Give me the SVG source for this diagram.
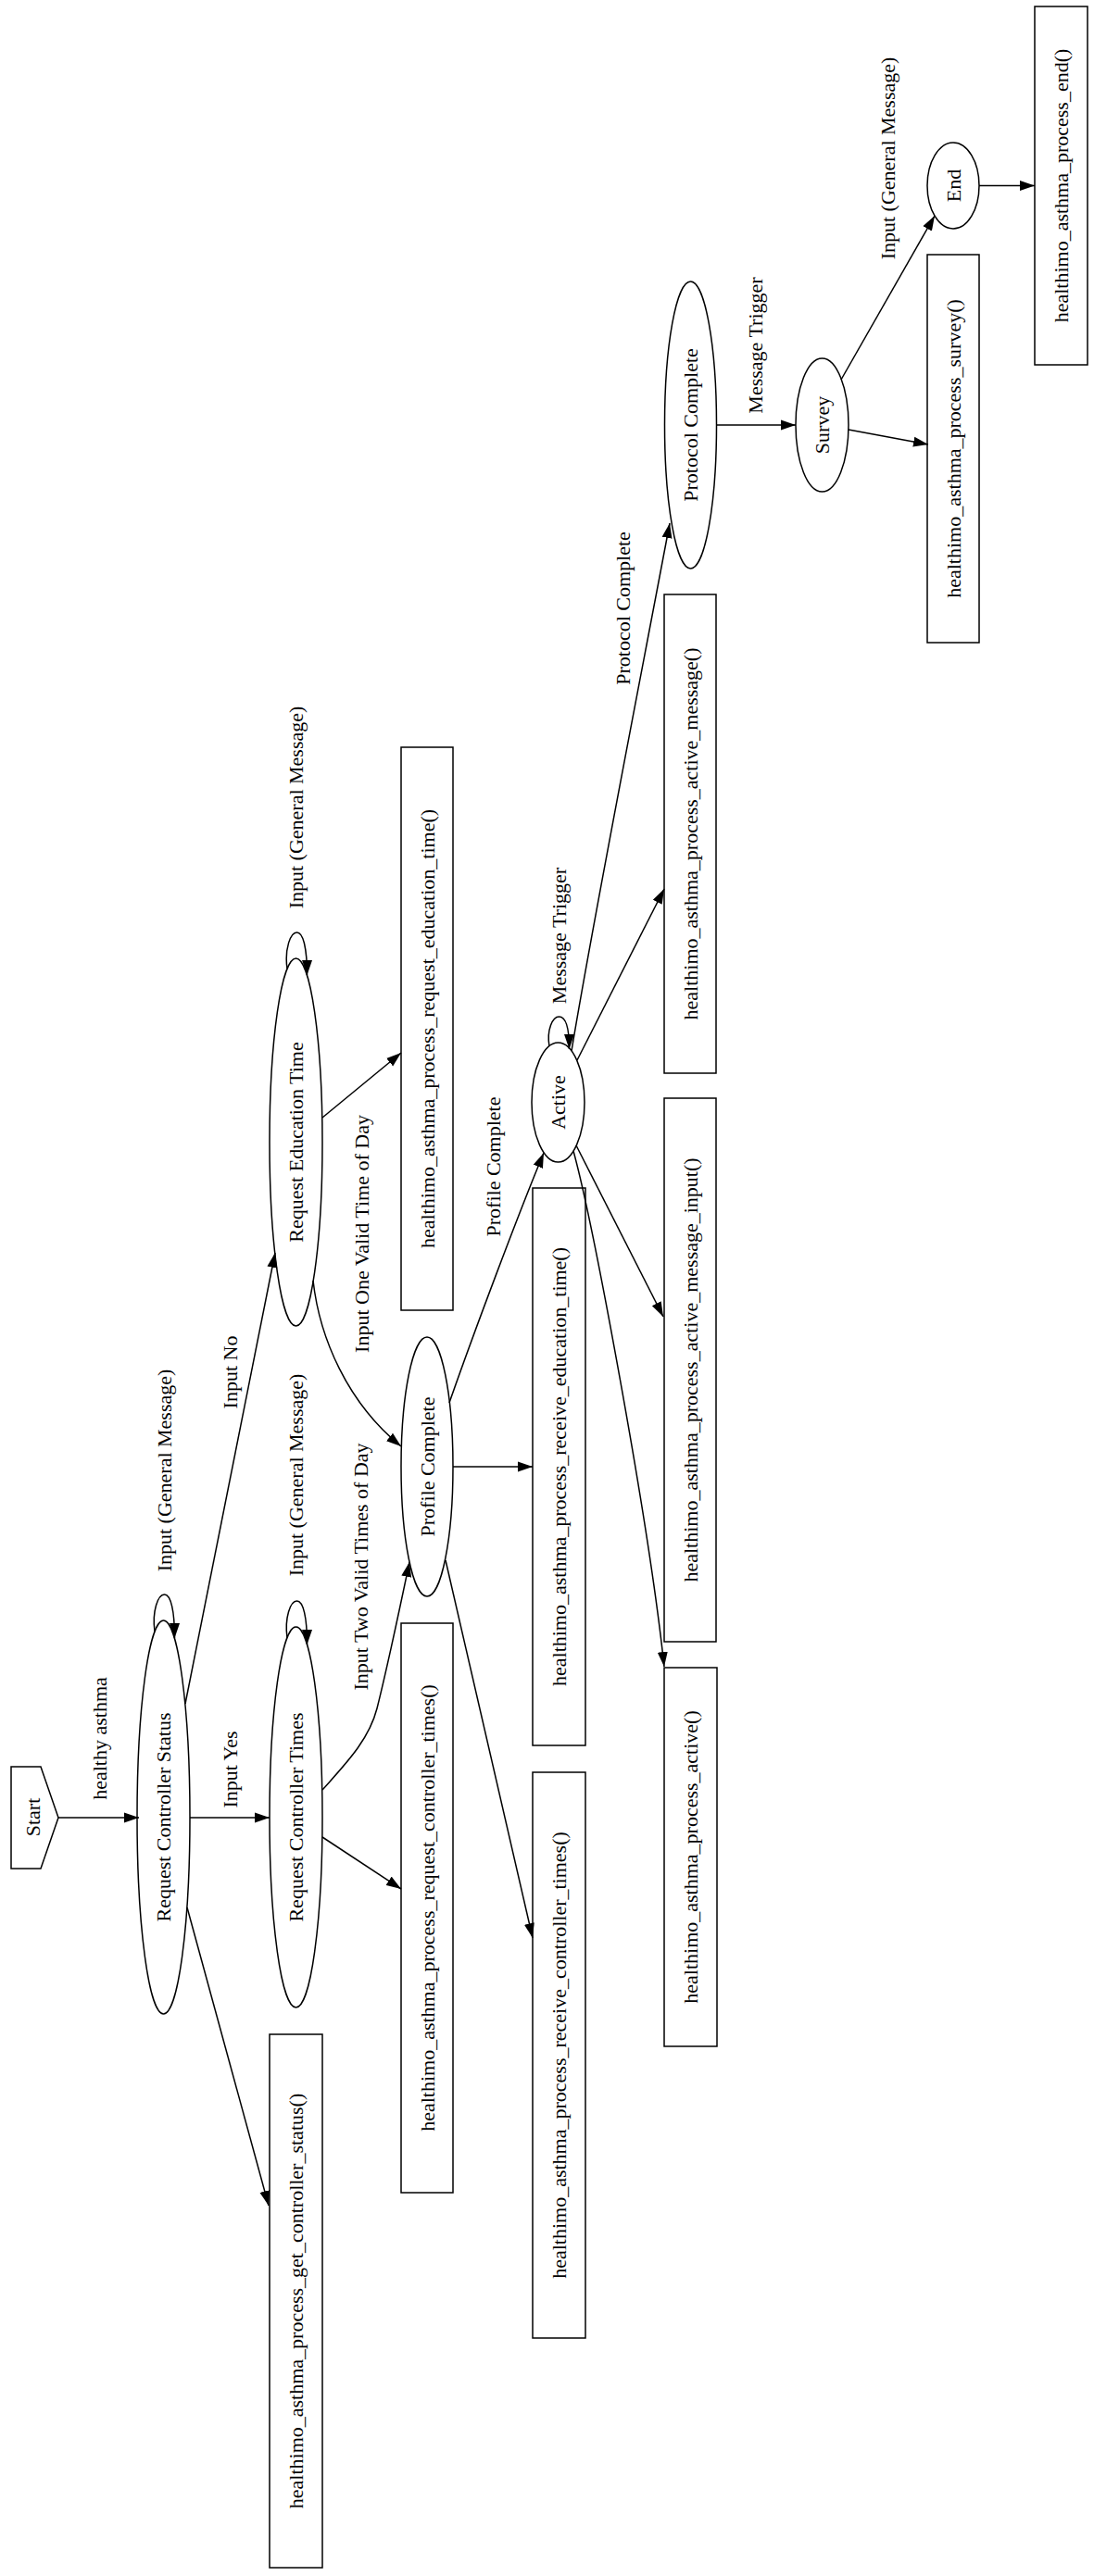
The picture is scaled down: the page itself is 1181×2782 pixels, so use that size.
<svg xmlns="http://www.w3.org/2000/svg" width="1181" height="2782" viewBox="0 0 1181 2782">
<defs>
<style>
.n{fill:none;stroke:#000;stroke-width:1.5}
.t{font-family:"Liberation Serif","Times New Roman",serif;font-size:22px;fill:#000;text-anchor:middle}
.e{fill:none;stroke:#000;stroke-width:1.5;marker-end:url(#ah)}
</style>
<marker id="ah" viewBox="0 0 17 12" refX="16" refY="6" markerWidth="17" markerHeight="12" markerUnits="userSpaceOnUse" orient="auto">
<path d="M0,0.5 L16,6 L0,11.5 z" fill="#000"/>
</marker>
</defs>
<rect width="1181" height="2782" fill="#fff"/>

<g id="edges">
<path class="e" d="M63,1963 L150,1963"/>
<text class="t" transform="translate(114.5,1877.5) rotate(-90)">healthy asthma</text>

<path class="e" d="M167,1762 C164,1740 170.5,1722 177.5,1722 C184.5,1722 188.5,1740 188.5,1769"/>
<text class="t" transform="translate(184.5,1588) rotate(-90)">Input (General Message)</text>

<path class="e" d="M205,1963 L291,1963"/>
<text class="t" transform="translate(255.5,1911) rotate(-90)">Input Yes</text>

<path class="e" d="M200,1840 L297,1353"/>
<text class="t" transform="translate(255.5,1482) rotate(-90)">Input No</text>

<path class="e" d="M202,2060 L290,2382"/>

<path class="e" d="M310,1769 C307,1747 313.5,1729 320.5,1729 C327.5,1729 331.5,1747 331.5,1776"/>
<text class="t" transform="translate(326.5,1593) rotate(-90)">Input (General Message)</text>

<path class="e" d="M348,1984 L433,2040"/>

<path class="e" d="M348,1933 C372,1906 398,1880 407,1845 C417,1805 432,1735 442,1687"/>
<text class="t" transform="translate(397,1692) rotate(-90)">Input Two Valid Times of Day</text>

<path class="e" d="M310,1046 C307,1025 313.5,1007 320.5,1007 C327.5,1007 331.5,1025 331.5,1053"/>
<text class="t" transform="translate(326.5,872) rotate(-90)">Input (General Message)</text>

<path class="e" d="M348,1207 L433,1137"/>

<path class="e" d="M338,1383 C345,1445 375,1515 433,1562"/>
<text class="t" transform="translate(397.5,1332.5) rotate(-90)">Input One Valid Time of Day</text>

<path class="e" d="M489,1584 L575,1584"/>

<path class="e" d="M485,1515 C513,1435 560,1310 587,1245"/>
<text class="t" transform="translate(539.5,1260) rotate(-90)">Profile Complete</text>

<path class="e" d="M481,1685 L575,2093"/>

<path class="e" d="M593,1130 C590,1112 596.5,1098 603.5,1098 C610.5,1098 614.5,1110 614.5,1133"/>
<text class="t" transform="translate(610.5,1010.5) rotate(-90)">Message Trigger</text>

<path class="e" d="M617,1135 C640,995 690,740 723,565"/>
<text class="t" transform="translate(679.5,657) rotate(-90)">Protocol Complete</text>

<path class="e" d="M623,1145 L717,960"/>

<path class="e" d="M622,1237 L716,1422"/>

<path class="e" d="M619,1243 C640,1320 700,1640 717,1800"/>

<path class="e" d="M773,459 L859,459"/>
<text class="t" transform="translate(822.5,373) rotate(-90)">Message Trigger</text>

<path class="e" d="M916,464 L1002,480"/>

<path class="e" d="M908,410 L1009,233"/>
<text class="t" transform="translate(966,171) rotate(-90)">Input (General Message)</text>

<path class="e" d="M1057,200.5 L1117,200.5"/>
</g>

<g id="start">
<polygon class="n" points="12,1908 44,1908 63,1963 44,2018 12,2018"/>
<text class="t" transform="translate(43,1962.5) rotate(-90)">Start</text>
</g>

<g id="request_controller_status">
<ellipse class="n" cx="176.5" cy="1962.5" rx="28.5" ry="212.5"/>
<text class="t" transform="translate(184,1962.5) rotate(-90)">Request Controller Status</text>
</g>

<g id="request_controller_times">
<ellipse class="n" cx="319.5" cy="1962.5" rx="28.5" ry="205.5"/>
<text class="t" transform="translate(327,1962.5) rotate(-90)">Request Controller Times</text>
</g>

<g id="request_education_time">
<ellipse class="n" cx="319.5" cy="1233.5" rx="28.5" ry="198.5"/>
<text class="t" transform="translate(327,1233.5) rotate(-90)">Request Education Time</text>
</g>

<g id="profile_complete">
<ellipse class="n" cx="461" cy="1584" rx="28" ry="140"/>
<text class="t" transform="translate(468.5,1584) rotate(-90)">Profile Complete</text>
</g>

<g id="active">
<ellipse class="n" cx="602.5" cy="1190.5" rx="28.5" ry="64.5"/>
<text class="t" transform="translate(610,1190.5) rotate(-90)">Active</text>
</g>

<g id="protocol_complete">
<ellipse class="n" cx="745.5" cy="459" rx="28" ry="155"/>
<text class="t" transform="translate(753,459) rotate(-90)">Protocol Complete</text>
</g>

<g id="survey">
<ellipse class="n" cx="887.5" cy="459" rx="28.5" ry="72"/>
<text class="t" transform="translate(895,459) rotate(-90)">Survey</text>
</g>

<g id="end">
<ellipse class="n" cx="1029" cy="200.5" rx="28" ry="46.5"/>
<text class="t" transform="translate(1036.5,200.5) rotate(-90)">End</text>
</g>

<g id="fn_get_controller_status">
<rect class="n" x="291" y="2197" width="57" height="576"/>
<text class="t" transform="translate(327,2485) rotate(-90)">healthimo_asthma_process_get_controller_status()</text>
</g>

<g id="fn_request_controller_times">
<rect class="n" x="433" y="1753" width="56" height="615"/>
<text class="t" transform="translate(468.5,2060.5) rotate(-90)">healthimo_asthma_process_request_controller_times()</text>
</g>

<g id="fn_request_education_time">
<rect class="n" x="433" y="807" width="56" height="608"/>
<text class="t" transform="translate(468.5,1111) rotate(-90)">healthimo_asthma_process_request_education_time()</text>
</g>

<g id="fn_receive_education_time">
<rect class="n" x="575" y="1283" width="57" height="602"/>
<text class="t" transform="translate(611,1584) rotate(-90)">healthimo_asthma_process_receive_education_time()</text>
</g>

<g id="fn_receive_controller_times">
<rect class="n" x="575" y="1914" width="57" height="611"/>
<text class="t" transform="translate(611,2219.5) rotate(-90)">healthimo_asthma_process_receive_controller_times()</text>
</g>

<g id="fn_active_message">
<rect class="n" x="717" y="642" width="56" height="517"/>
<text class="t" transform="translate(752.5,900.5) rotate(-90)">healthimo_asthma_process_active_message()</text>
</g>

<g id="fn_active_message_input">
<rect class="n" x="717" y="1186" width="56" height="587"/>
<text class="t" transform="translate(752.5,1479.5) rotate(-90)">healthimo_asthma_process_active_message_input()</text>
</g>

<g id="fn_active">
<rect class="n" x="717" y="1801" width="57" height="409"/>
<text class="t" transform="translate(753,2005.5) rotate(-90)">healthimo_asthma_process_active()</text>
</g>

<g id="fn_survey">
<rect class="n" x="1001" y="275" width="56" height="419"/>
<text class="t" transform="translate(1036.5,484.5) rotate(-90)">healthimo_asthma_process_survey()</text>
</g>

<g id="fn_end">
<rect class="n" x="1117" y="7" width="57" height="387"/>
<text class="t" transform="translate(1153,200.5) rotate(-90)">healthimo_asthma_process_end()</text>
</g>
</svg>
